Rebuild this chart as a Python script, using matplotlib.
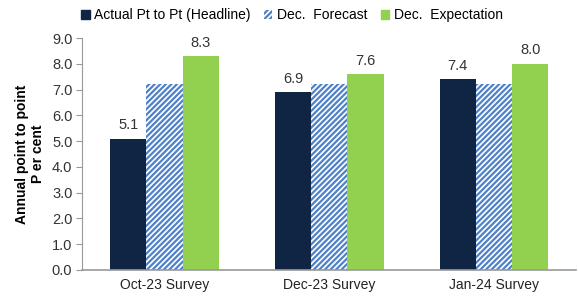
import numpy as np
import matplotlib.pyplot as plt
from matplotlib.patches import Patch

plt.rcParams['font.family'] = ['Liberation Sans Narrow', 'Liberation Sans', 'DejaVu Sans']
plt.rcParams['hatch.linewidth'] = 1.6

# Data
surveys = ['Oct-23 Survey', 'Dec-23 Survey', 'Jan-24 Survey']
actual = [5.1, 6.9, 7.4]
forecast = [7.2, 7.2, 7.2]
expectation = [8.3, 7.6, 8.0]

navy = '#0f2543'
blue = '#4f81c9'
green = '#92d050'

fig = plt.figure(figsize=(5.78, 3.02), dpi=100)
ax = fig.add_axes([0.142, 0.106, 0.855, 0.768])

x = np.arange(len(surveys))
w = 0.22
ax.bar(x - w, actual, w, color=navy)
ax.bar(x, forecast, w, color='white', edgecolor=blue, hatch='//////', linewidth=0)
ax.bar(x + w, expectation, w, color=green)

for i in range(len(surveys)):
    ax.text(x[i] - w, actual[i] + 0.25, f'{actual[i]:.1f}', ha='center', va='bottom',
            fontsize=10.5, color='#333333')
    ax.text(x[i] + w, expectation[i] + 0.25, f'{expectation[i]:.1f}', ha='center', va='bottom',
            fontsize=10.5, color='#333333')

ax.set_xlim(-0.5, 2.5)
ax.set_ylim(0, 9)
ax.set_yticks(np.arange(0, 9.1, 1))
ax.set_yticklabels([f'{v:.1f}' for v in np.arange(0, 9.1, 1)], fontsize=10.5, color='#333333')
ax.set_xticks(x)
ax.set_xticklabels(surveys, fontsize=10, color='#222222')
ax.tick_params(axis='x', length=0, pad=6)
ax.tick_params(axis='y', length=4, color='#999999', pad=3)

ax.spines['top'].set_visible(False)
ax.spines['right'].set_visible(False)
ax.spines['left'].set_color('#999999')
ax.spines['left'].set_linestyle((0, (1, 1)))
ax.spines['bottom'].set_color('#999999')
ax.spines['bottom'].set_linewidth(1.2)

ax.set_ylabel('Annual point to point\nP er cent', fontsize=10, fontweight='bold', labelpad=5)

handles = [Patch(color=navy), Patch(facecolor='white', edgecolor=blue, hatch='//////', linewidth=0),
           Patch(color=green)]
labels = ['Actual Pt to Pt (Headline)', 'Dec.  Forecast', 'Dec.  Expectation']
fig.legend(handles, labels, loc='center', bbox_to_anchor=(0.505, 0.95), ncol=3, frameon=False,
           fontsize=10, handlelength=0.6, handleheight=0.6, handletextpad=0.3, columnspacing=1.0)

fig.savefig('out.png', dpi=100)
